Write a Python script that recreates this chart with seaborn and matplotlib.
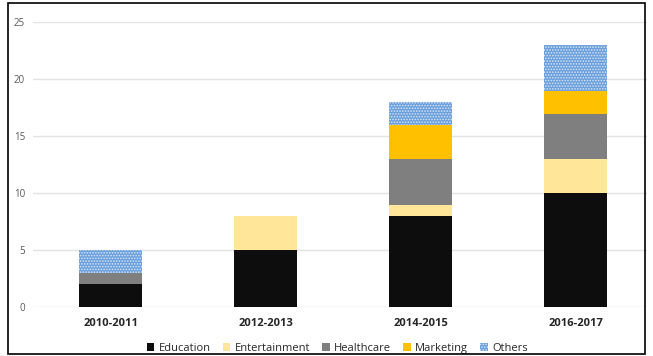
import matplotlib
matplotlib.use("Agg")
import matplotlib.pyplot as plt
import seaborn as sns
import pandas as pd
import numpy as np
from matplotlib.patches import Rectangle

periods = ["2010-2011", "2012-2013", "2014-2015", "2016-2017"]
series_names = ["Education", "Entertainment", "Healthcare", "Marketing", "Others"]
education = [2, 5, 8, 10]
entertainment = [0, 3, 1, 3]
healthcare = [1, 0, 4, 4]
marketing = [0, 0, 3, 2]
others = [2, 0, 2, 4]
y_ticks = [0, 5, 10, 15, 20, 25]

colors = ["#0D0D0D", "#FFE699", "#7F7F7F", "#FFC000", "#6A9FDC"]
values = [education, entertainment, healthcare, marketing, others]

sns.set_theme(style="white")
plt.rcParams['font.family'] = ['Open Sans', 'DejaVu Sans']
plt.rcParams['hatch.linewidth'] = 0.8

fig = plt.figure(figsize=(6.53, 3.56), dpi=100)
ax = fig.add_axes([0.051, 0.137, 0.94, 0.8])

bottom = np.zeros(len(periods))
for name, vals, col in zip(series_names, values, colors):
    df = pd.DataFrame({"period": periods, "value": vals})
    if name == "Others":
        kw = dict(hatch="......", edgecolor="white", linewidth=0)
    else:
        kw = dict(edgecolor="none", linewidth=0)
    sns.barplot(data=df, x="period", y="value", color=col, ax=ax,
                bottom=bottom, width=0.405, label=name, saturation=1, **kw)
    bottom = bottom + np.array(vals)

for p in ax.patches:
    if p.get_hatch():
        p.set_edgecolor((1, 1, 1, 0.7))
        p.set_linewidth(0)

ax.set_ylim(0, 25)
ax.set_yticks(y_ticks)
ax.set_xlim(-0.5, 3.46)
ax.yaxis.grid(True, color="#E3E3E3", linewidth=1)
ax.set_axisbelow(True)
for s in ax.spines.values():
    s.set_visible(False)
ax.set_xlabel("")
ax.set_ylabel("")
ax.tick_params(axis="y", labelsize=7, labelcolor="#595959", length=0, pad=6)
ax.tick_params(axis="x", labelsize=8, length=0, pad=8)
for t in ax.get_xticklabels():
    t.set_fontweight("bold")
    t.set_color("#262626")

handles, labels = ax.get_legend_handles_labels()
leg = ax.legend(handles, labels, loc="lower center", bbox_to_anchor=(0.495, -0.2),
                ncol=5, frameon=False, fontsize=8, handlelength=0.7, handleheight=0.7,
                handletextpad=0.4, columnspacing=1.05)
for t in leg.get_texts():
    t.set_color("#262626")

fig.patches.append(Rectangle((0.012, 0.006), 0.976, 0.986, transform=fig.transFigure,
                             fill=False, edgecolor="black", linewidth=1.2))

fig.savefig("out.png", dpi=100)
